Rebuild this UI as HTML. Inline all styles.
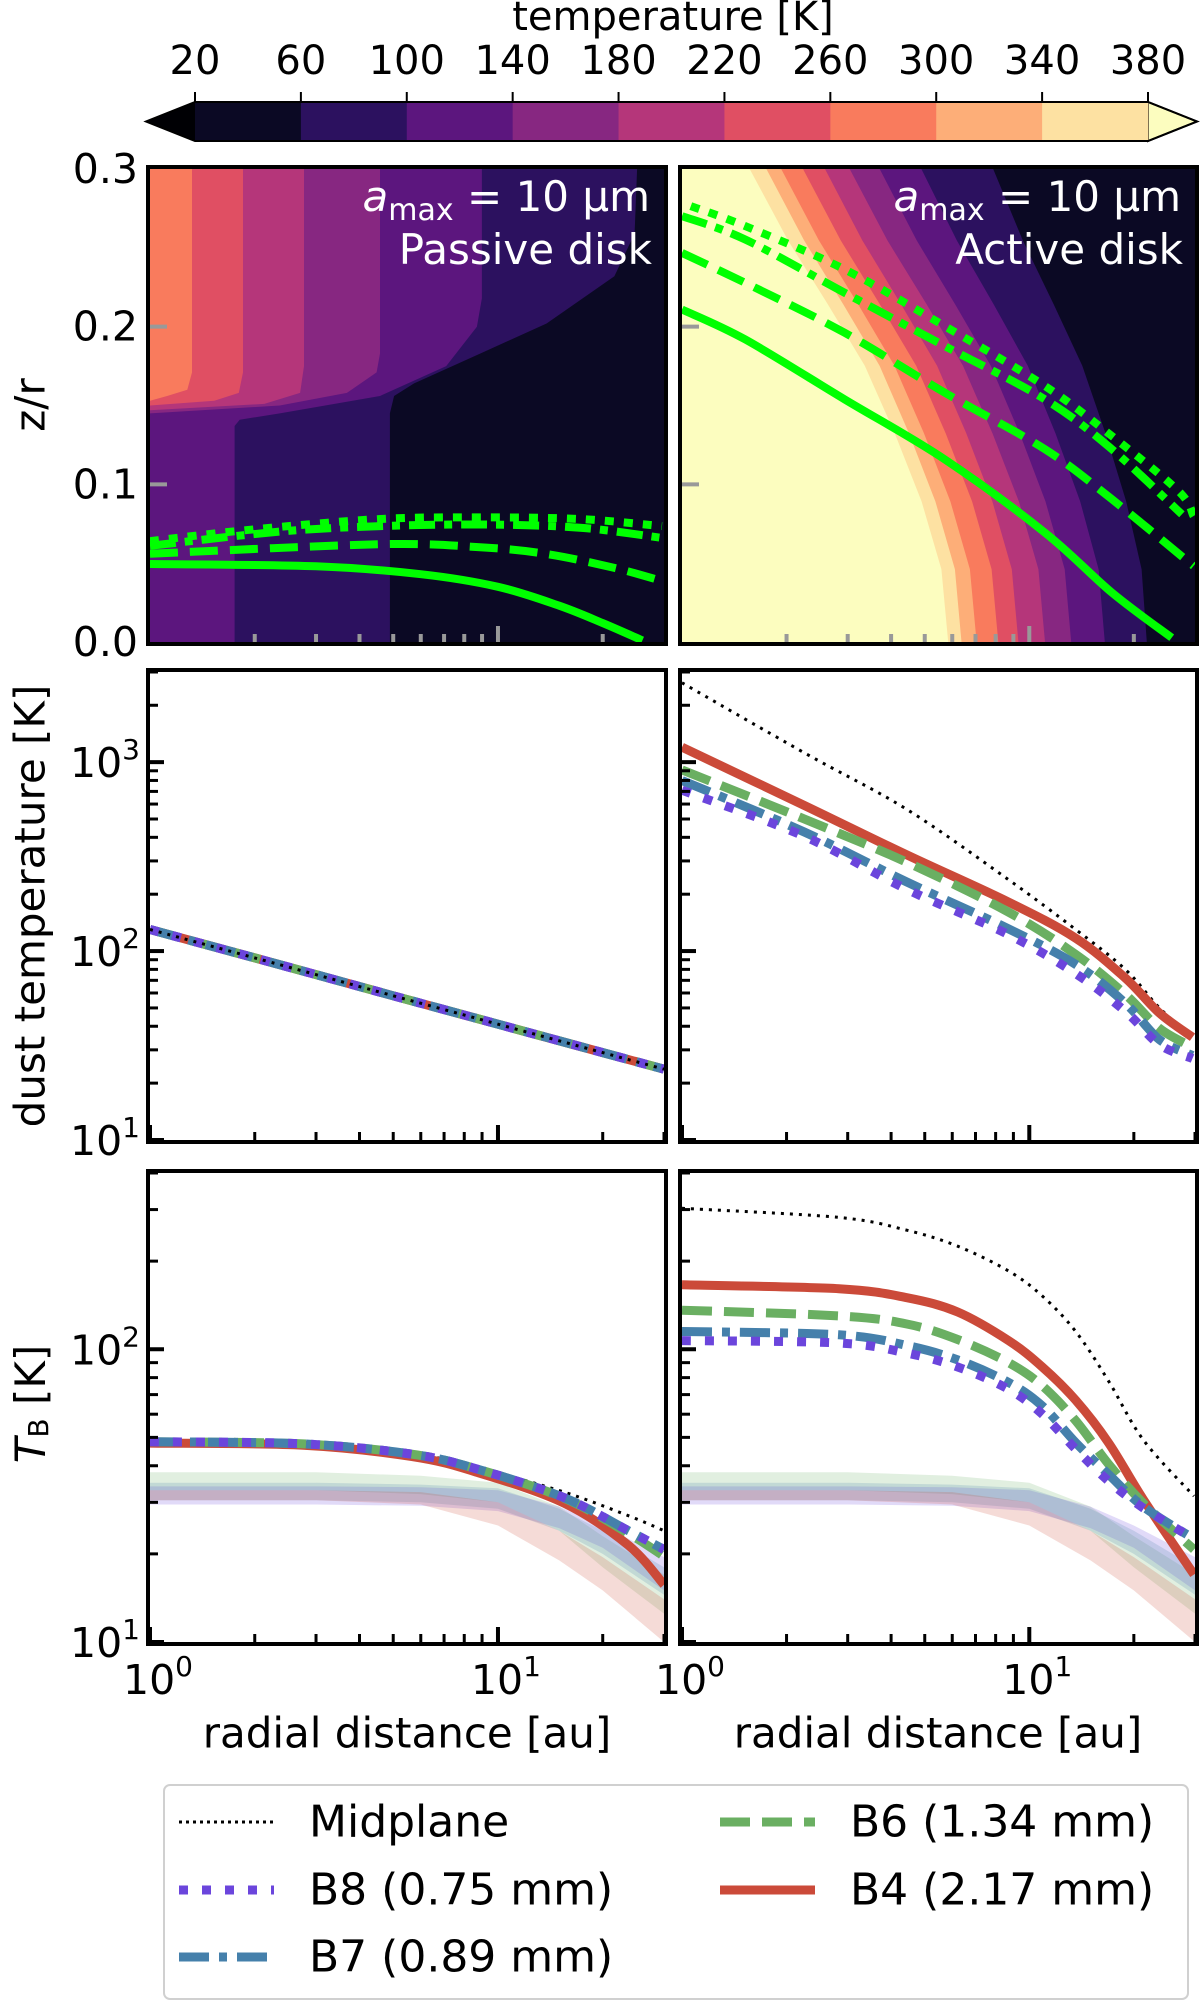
<!DOCTYPE html>
<html><head><meta charset="utf-8"><style>
html,body{margin:0;padding:0;background:#fff;}
svg{display:block;font-family:"DejaVu Sans","Liberation Sans",sans-serif;}
</style></head><body>
<svg id="fig" xmlns="http://www.w3.org/2000/svg" width="1200" height="2002" viewBox="0 0 1200 2002">
<defs>
<clipPath id="cPT"><rect x="150" y="169" width="514" height="473"/></clipPath>
<clipPath id="cAT"><rect x="682" y="169" width="513" height="473"/></clipPath>
<clipPath id="cPM"><rect x="150" y="672" width="514" height="468"/></clipPath>
<clipPath id="cAM"><rect x="682" y="672" width="513" height="468"/></clipPath>
<clipPath id="cPB"><rect x="150" y="1173" width="514" height="469"/></clipPath>
<clipPath id="cAB"><rect x="682" y="1173" width="513" height="469"/></clipPath>
</defs>
</svg>
<script>
// ---------- data ----------
const cbEdges = [20,60,100,140,180,220,260,300,340,380];
const cbColors = ['#0b0924','#2c115f','#5c167e','#872781','#b5367a','#e04f63','#f97b5d','#fdae78','#fde1a2'];
const cbUnder = '#000004';
const cbOver = '#fcfdbf';
const passiveLevels = [60,100,140,180,220,260];
const passiveB60 = [[25.1,.3],[24.7,.259],[21.6,.232],[13.8,.202],[8.9,.183],[5.74,.164],[5.03,.156],[4.89,.145],[4.89,0]];
const passiveB100 = [[8.99,.3],[8.99,.218],[8.7,.2],[7.1,.175],[4.58,.156],[2.36,.145],[1.81,.141],[1.75,.137],[1.75,0]];
const passiveB140 = [[4.58,.3],[4.58,.183],[4.48,.171],[3.68,.158],[2.36,.15],[1,.145]];
const passiveB180 = [[2.77,.3],[2.77,.175],[2.7,.158],[2.13,.151],[1,.147]];
const passiveB220 = [[1.85,.3],[1.85,.171],[1.8,.158],[1.53,.153],[1,.15]];
const passiveB260 = [[1.32,.3],[1.32,.171],[1.28,.16],[1.12,.156],[1,.153]];
const activeLevels = [60,100,140,180,220,260,300,340,380];
const activeTopR = [7.87,4.89,3.71,3.04,2.58,2.23,1.93,1.75,1.567];
const activeMidR = [21.8,16.5,13.2,11.1,9.30,8.14,7.05,6.38,5.84];
const activeShapeZ = [0.3,0.2547,0.2139,0.1752,0.1323,0.0891,0.0462,0];
const activeShapeF = [0,0.193,0.395,0.58,0.731,0.866,0.966,1];
const passiveSurfB4 = [[1,.0495],[3,.048],[6,.043],[10,.035],[15,.023],[20,.012],[26,.001]];
const passiveSurfB6 = [[1,.056],[4.6,.062],[9,.06],[13.8,.0558],[21.6,.047],[29.6,.0387]];
const passiveSurfB7 = [[1,.061],[2.36,.07],[4.6,.0735],[9,.0745],[17.2,.0725],[29.6,.066]];
const passiveSurfB8 = [[1,.064],[2,.0715],[4.6,.078],[9,.079],[17.2,.078],[29.6,.0735]];
const activeSurfB4 = [[1,.2109],[1.52,.1919],[2.94,.1539],[5.71,.1158],[11.1,.0693],[17.3,.0313],[25.7,.0027]];
const activeSurfB6 = [[1,.2468],[1.52,.2278],[2.94,.1961],[5.71,.1581],[11.1,.1222],[17.3,.0905],[29.7,.0482]];
const activeSurfB7 = [[1,.2701],[1.52,.2553],[2.94,.2215],[5.71,.1877],[11.1,.1539],[17.3,.1222],[27.5,.081]];
const activeSurfB8 = [[1.06,.2765],[1.52,.2638],[2.94,.2363],[5.71,.2003],[11.1,.1623],[17.3,.1306],[26.9,.0957],[29.7,.0799]];
const passiveMidR = [1,2,5,10,20,30];
const passiveMidTmid = [130,92,58,41,29,23.7];
const passiveMidTB4 = [130,92,58,41,29,23.7];
const passiveMidTB6 = [130,92,58,41,29,23.7];
const passiveMidTB7 = [130,92,58,41,29,23.7];
const passiveMidTB8 = [130,92,58,41,29,23.7];
const activeMidRr = [1,2.25,4.42,8.65,13.6,18.9,23.7,29.5];
const activeMidTmid = [2630,1120,565,241,130,80,50,35];
const activeMidTB4 = [1200,590,324,183,117,72,47,35];
const activeMidTB6 = [910,500,296,162,96,59,39,31];
const activeMidTB7 = [800,427,233,132,85,53,34,28];
const activeMidTB8 = [710,405,213,123,76,48,32,27];
const passiveTbR = [1,2.76,5.66,8.7,15.5,23.7,30];
const passiveTbMid = [48.3,47.6,44,39.5,32.5,27,24];
const passiveTbB4 = [47.8,47,43,38,29.8,21.4,15.7];
const passiveTbB6 = [48.3,47.5,43.8,39,31,23.5,19.6];
const passiveTbB7 = [48.3,47.5,43.8,39,31.1,24,20.7];
const passiveTbB8 = [48.3,47.5,43.8,39,31.1,24,20.7];
const activeTbR = [1,2.83,4.44,6.22,8.72,10.9,13.6,16.9,21.3,29.8];
const activeTbMid = [303,282,255,225,185,152,115,78,49,31.5];
const activeTbB4 = [166,161,150,134,107,87,67,48,30.7,17];
const activeTbB6 = [136,130,122,108,90,75,57,40.6,29.8,20.7];
const activeTbB7 = [115,112,103,92,77,64,48,37.4,29,22.5];
const activeTbB8 = [107,105,97,87,73,60,45.6,35.5,28.7,22.5];
const bandR = [1,3,6,10,15,20,30];
const bandB6Lo = [33,33,32,30,24,18,12.5];
const bandB6Hi = [38,38,37,35,29,23,17];
const bandB7Lo = [30.5,30.5,30,28.5,24,20,14.5];
const bandB7Hi = [35,35,34.5,33.5,28.5,24,18];
const bandB8Lo = [29.5,29.5,29.2,28,24.5,21,15];
const bandB8Hi = [34,34,33.8,33,29,25,19.5];
const bandB4Lo = [30.5,30.5,29.5,25,19,15,10];
const bandB4Hi = [33,33,32.5,30,24,19.5,14];
const colB4='#cb4a39', colB6='#6aaf62', colB7='#4580ab', colB8='#6b45dc';

// ---------- helpers ----------
const NS='http://www.w3.org/2000/svg';
const svg=document.getElementById('fig');
function mk(tag,parent){const e=document.createElementNS(NS,tag);(parent||svg).appendChild(e);return e;}
function set(e,o){for(const k in o)e.setAttribute(k,o[k]);return e;}
function logX(p){return r=>p.x0+(Math.log10(r)/Math.log10(30))*(p.x1-p.x0);}
function linY(p){return z=>p.y1-(z/0.3)*(p.y1-p.y0);}
function logY(p,lo,hi){return t=>p.y1-(Math.log10(t/lo)/Math.log10(hi/lo))*(p.y1-p.y0);}
function pathD(pts){return pts.map((q,i)=>(i?'L':'M')+q[0].toFixed(1)+' '+q[1].toFixed(1)).join(' ');}
function smoothD(pts){
  if(pts.length<3)return pathD(pts);
  let d='M'+pts[0][0].toFixed(1)+' '+pts[0][1].toFixed(1);
  for(let i=0;i<pts.length-1;i++){
    const p0=pts[Math.max(i-1,0)],p1=pts[i],p2=pts[i+1],p3=pts[Math.min(i+2,pts.length-1)];
    const c1=[p1[0]+(p2[0]-p0[0])/6,p1[1]+(p2[1]-p0[1])/6];
    const c2=[p2[0]-(p3[0]-p1[0])/6,p2[1]-(p3[1]-p1[1])/6];
    d+=` C${c1[0].toFixed(1)} ${c1[1].toFixed(1)} ${c2[0].toFixed(1)} ${c2[1].toFixed(1)} ${p2[0].toFixed(1)} ${p2[1].toFixed(1)}`;
  }
  return d;
}

const PT={x0:150,x1:664,y0:169,y1:642}, AT={x0:682,x1:1195,y0:169,y1:642};
const PM={x0:150,x1:664,y0:672,y1:1140}, AM={x0:682,x1:1195,y0:672,y1:1140};
const PB={x0:150,x1:664,y0:1173,y1:1642}, AB={x0:682,x1:1195,y0:1173,y1:1642};

// ---------- colorbar ----------
const cb=mk('g');


const cbX0=195, cbX1=1148, cbY0=102, cbY1=141;
const cbx=v=>cbX0+(v-20)/(360)*(cbX1-cbX0);
const under=set(mk('polygon',cb),{points:`${cbX0},${cbY0} ${cbX0},${cbY1} 146,${(cbY0+cbY1)/2}`,fill:cbUnder});


const over=set(mk('polygon',cb),{points:`${cbX1},${cbY0} ${cbX1},${cbY1} 1197,${(cbY0+cbY1)/2}`,fill:cbOver,stroke:'#000','stroke-width':2});


cbColors.forEach((c,i)=>{
  const r=set(mk('rect',cb),{x:cbx(cbEdges[i]),y:cbY0,width:cbx(cbEdges[i+1])-cbx(cbEdges[i])+0.5,height:cbY1-cbY0,fill:c});
  
  
});
set(mk('polygon',cb),{points:`${cbX0},${cbY0} ${cbX1},${cbY0} 1197,${(cbY0+cbY1)/2} ${cbX1},${cbY1} ${cbX0},${cbY1} 146,${(cbY0+cbY1)/2}`,fill:'none',stroke:'#000','stroke-width':2});
cbEdges.forEach(v=>{
  set(mk('line',cb),{x1:cbx(v),x2:cbx(v),y1:cbY0,y2:cbY0-10,stroke:'#000','stroke-width':2});
  const t=set(mk('text',cb),{x:cbx(v),y:74,'text-anchor':'middle','font-size':40});
  t.textContent=v;
  
  
});
const cbt=set(mk('text',cb),{x:673,y:30,'text-anchor':'middle','font-size':40});
cbt.textContent='temperature [K]';



// ---------- top panels ----------
function topPanel(p,clip,name){
  const g=mk('g');
  
  
  const inner=set(mk('g',g),{'clip-path':`url(#${clip})`});
  set(mk('rect',inner),{x:p.x0,y:p.y0,width:p.x1-p.x0,height:p.y1-p.y0,fill:cbColors[0]});
  return [g,inner];
}
function fillRegion(g,p,pts,color,name){
  const X=logX(p),Y=linY(p);
  const last=pts[pts.length-1];
  const poly=[[1,0.3],...pts,[1,last[1]]];
  const e=set(mk('path',g),{d:pathD(poly.map(q=>[X(q[0]),Y(q[1])]))+' Z',fill:color});
  
  
}
const [gPT,iPT]=topPanel(PT,'cPT','passive-structure-panel');
[passiveB60,passiveB100,passiveB140,passiveB180,passiveB220,passiveB260].forEach((b,i)=>{
  fillRegion(iPT,PT,b,cbColors[i+1],'contour-region-'+passiveLevels[i]+'K');
});
const [gAT,iAT]=topPanel(AT,'cAT','active-structure-panel');
activeLevels.forEach((lv,i)=>{
  const lt=Math.log10(activeTopR[i]), lb=Math.log10(activeMidR[i]);
  const pts=activeShapeZ.map((z,j)=>[Math.pow(10,lt+activeShapeF[j]*(lb-lt)),z]);
  fillRegion(iAT,AT,pts,i<8?cbColors[i+1]:cbOver,'contour-region-'+lv+'K');
});
const greenStyles=[['none','B4'],['28 12','B6'],['26 9 8 9','B7'],['9 10','B8']];
function greenLines(g,p,sets){
  const X=logX(p),Y=linY(p);
  sets.forEach((s,i)=>{
    const e=set(mk('path',g),{d:smoothD(s.map(q=>[X(q[0]),Y(q[1])])),fill:'none',stroke:'#00ff00','stroke-width':8,'stroke-dasharray':greenStyles[i][0]});
    
    
  });
}
greenLines(iPT,PT,[passiveSurfB4,passiveSurfB6,passiveSurfB7,passiveSurfB8]);
greenLines(iAT,AT,[activeSurfB4,activeSurfB6,activeSurfB7,activeSurfB8]);
function grayTicks(g,p){
  const X=logX(p),Y=linY(p);
  [0.1,0.2].forEach(z=>set(mk('line',g),{x1:p.x0,x2:p.x0+17,y1:Y(z),y2:Y(z),stroke:'#999','stroke-width':4}));
  [2,3,4,5,6,7,8,9,20].forEach(r=>set(mk('line',g),{x1:X(r),x2:X(r),y1:p.y1,y2:p.y1-8,stroke:'#999','stroke-width':4}));
  set(mk('line',g),{x1:X(10),x2:X(10),y1:p.y1,y2:p.y1-16,stroke:'#999','stroke-width':4});
}
grayTicks(gPT,PT);grayTicks(gAT,AT);
function annot(g,p,label){
  const t=set(mk('text',g),{x:p.x1-14,y:211,'text-anchor':'end','font-size':42,fill:'#fff'});
  t.innerHTML='<tspan font-style="italic">a</tspan><tspan font-size="30" dy="9">max</tspan><tspan dy="-9"> = 10 μm</tspan>';
  
  
  const t2=set(mk('text',g),{x:p.x1-12,y:264,'text-anchor':'end','font-size':42,fill:'#fff'});
  t2.textContent=label;
  
  
}
annot(gPT,PT,'Passive disk');annot(gAT,AT,'Active disk');
[0,0.1,0.2,0.3].forEach(z=>{
  const t=set(mk('text'),{x:138,y:linY(PT)(z),'text-anchor':'end','dominant-baseline':'central','font-size':41});
  t.textContent=z.toFixed(1);
  
  
});

// ---------- line panels ----------
function linePanel(p,clip,lo,hi,name){
  const g=mk('g');
  
  
  const inner=set(mk('g',g),{'clip-path':`url(#${clip})`});
  const X=logX(p),Y=logY(p,lo,hi);
  for(let d=1;d<=1000;d*=10){for(let m=1;m<10;m++){const v=d*m;if(v<lo||v>hi)continue;
    const maj=(m===1);
    set(mk('line',g),{x1:p.x0,x2:p.x0+(maj?14:8),y1:Y(v),y2:Y(v),stroke:'#000','stroke-width':maj?4:3});}}
  [1,2,3,4,5,6,7,8,9,10,20,30].forEach(r=>{const maj=(r===1||r===10);
    set(mk('line',g),{x1:X(r),x2:X(r),y1:p.y1,y2:p.y1-(maj?15:8),stroke:'#000','stroke-width':maj?4:3});});
  return [g,inner,X,Y];
}
function drawLine(g,X,Y,rs,ts,color,w,dash,name){
  const e=set(mk('path',g),{d:smoothD(rs.map((r,i)=>[X(r),Y(ts[i])])),fill:'none',stroke:color,'stroke-width':w,'stroke-dasharray':dash,'stroke-linecap':'butt','stroke-linejoin':'round'});
  
  
}
function drawBand(g,X,Y,lo,hi,color,name){
  const pts=bandR.map((r,i)=>[X(r),Y(hi[i])]).concat(bandR.map((r,i)=>[X(r),Y(lo[i])]).reverse());
  const e=set(mk('path',g),{d:pathD(pts)+' Z',fill:color,'fill-opacity':0.2});
  
  
}
function fiveLines(inner,X,Y,rs,mid,b4,b6,b7,b8,midTop){
  if(!midTop) drawLine(inner,X,Y,rs,mid,'#000',3,'3 6','midplane-line');
  drawLine(inner,X,Y,rs,b4,colB4,9,'none','B4-line');
  drawLine(inner,X,Y,rs,b6,colB6,9,'30 12','B6-line');
  drawLine(inner,X,Y,rs,b7,colB7,9,'30 10 8 10','B7-line');
  drawLine(inner,X,Y,rs,b8,colB8,9,'9 14','B8-line');
  if(midTop) drawLine(inner,X,Y,rs,mid,'#000',3,'3 6','midplane-line');
}
let a=linePanel(PM,'cPM',10,3000,'passive-dust-temperature-panel');
fiveLines(a[1],a[2],a[3],passiveMidR,passiveMidTmid,passiveMidTB4,passiveMidTB6,passiveMidTB7,passiveMidTB8,true);
a=linePanel(AM,'cAM',10,3000,'active-dust-temperature-panel');
fiveLines(a[1],a[2],a[3],activeMidRr,activeMidTmid,activeMidTB4,activeMidTB6,activeMidTB7,activeMidTB8,false);
[PB,AB].forEach((p,k)=>{
  const q=linePanel(p,k?'cAB':'cPB',10,400,k?'active-brightness-panel':'passive-brightness-panel');
  drawBand(q[1],q[2],q[3],bandB6Lo,bandB6Hi,colB6,'B6-band');
  drawBand(q[1],q[2],q[3],bandB8Lo,bandB8Hi,colB8,'B8-band');
  drawBand(q[1],q[2],q[3],bandB7Lo,bandB7Hi,colB7,'B7-band');
  drawBand(q[1],q[2],q[3],bandB4Lo,bandB4Hi,colB4,'B4-band');
  if(k) fiveLines(q[1],q[2],q[3],activeTbR,activeTbMid,activeTbB4,activeTbB6,activeTbB7,activeTbB8,false);
  else fiveLines(q[1],q[2],q[3],passiveTbR,passiveTbMid,passiveTbB4,passiveTbB6,passiveTbB7,passiveTbB8,false);
});

[PT,AT,PM,AM,PB,AB].forEach(p=>{
  const f=set(mk('rect'),{x:p.x0-2,y:p.y0-2,width:p.x1-p.x0+4,height:p.y1-p.y0+4,fill:'none',stroke:'#000','stroke-width':4});
  
  
});

function powLabel(x,y,exp,anchor,name){
  const t=set(mk('text'),{x:x,y:y,'text-anchor':anchor,'font-size':41});
  t.innerHTML='10<tspan font-size="28" dy="-18">'+exp+'</tspan>';
  
  
}
const YM=logY(PM,10,3000), YB=logY(PB,10,400);
[1,2,3].forEach(e=>powLabel(140,YM(Math.pow(10,e))+15,e,'end','y-tick-label'));
[1,2].forEach(e=>powLabel(140,YB(Math.pow(10,e))+15,e,'end','y-tick-label'));
[[PB,1],[PB,10],[AB,1],[AB,10]].forEach(([p,r])=>powLabel(logX(p)(r)+8,1694,r===1?0:1,'middle','x-tick-label'));

function label(x,y,rot,html,name){
  const t=set(mk('text'),{x:x,y:y,'text-anchor':'middle','dominant-baseline':'central','font-size':42,transform:rot?`rotate(-90 ${x} ${y})`:''});
  t.innerHTML=html;
  
  
}
label(30,405,true,'z/r','y-axis-title-zr');
label(30,906,true,'dust temperature [K]','y-axis-title-dust');
label(30,1404,true,'<tspan font-style="italic">T</tspan><tspan font-size="28" dy="8">B</tspan><tspan dy="-8"> [K]</tspan>','y-axis-title-tb');
label(407,1733,false,'radial distance [au]','x-axis-title-left');
label(938,1733,false,'radial distance [au]','x-axis-title-right');

const lg=mk('g');


set(mk('rect',lg),{x:164,y:1785,width:1024,height:214,rx:6,fill:'#fff',stroke:'#d0d0d0','stroke-width':2});
const legItems=[[179,1822,'#000',3,'3 4','Midplane'],[179,1890,colB8,9,'9 14','B8 (0.75 mm)'],[179,1957,colB7,9,'30 10 8 10','B7 (0.89 mm)'],[720,1822,colB6,9,'30 12','B6 (1.34 mm)'],[720,1890,colB4,9,'none','B4 (2.17 mm)']];
legItems.forEach(it=>{
  const en=mk('g',lg);
  
  
  set(mk('line',en),{x1:it[0],x2:it[0]+95,y1:it[1],y2:it[1],stroke:it[2],'stroke-width':it[3],'stroke-dasharray':it[4]});
  const t=set(mk('text',en),{x:it[0]+130,y:it[1],'dominant-baseline':'central','font-size':44});
  t.textContent=it[5];
});
</script>
</body></html>
